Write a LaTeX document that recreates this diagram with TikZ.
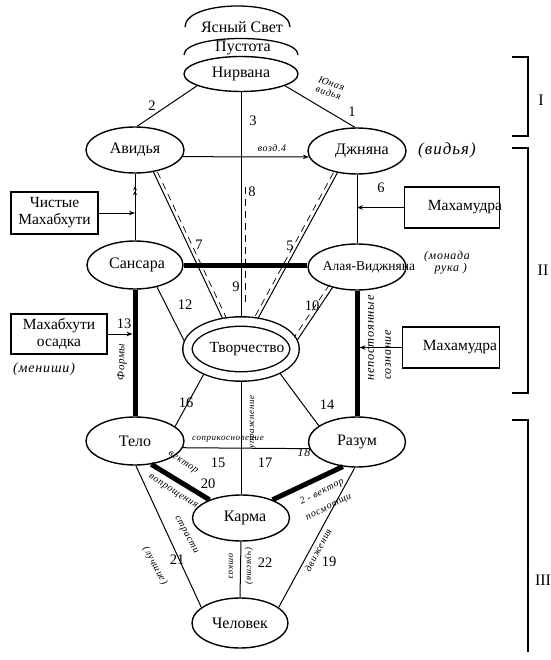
\documentclass[tikz,border=0pt]{standalone}
\usepackage{fontspec}
\setmainfont{Liberation Serif}
\newfontfamily\hand{Liberation Serif}[LetterSpace=6]
\usetikzlibrary{shapes.geometric,arrows.meta,decorations.markings}
\begin{document}
\begin{tikzpicture}[x=1pt,y=-1pt,
  ell/.style={ellipse, draw, line width=1.4pt, inner sep=0pt, font=\fontsize{16}{17}\selectfont},
  box/.style={rectangle, draw, line width=1.4pt, inner sep=0pt, font=\fontsize{15.5}{17}\selectfont, align=center},
  num/.style={inner sep=0pt, font=\fontsize{14.5}{15}\selectfont},
  hw/.style={inner sep=0pt, align=center, font=\hand\itshape\fontsize{#1}{#1}\selectfont},
  hw/.default=11,
  ln/.style={line width=1pt},
  heavy/.style={line width=5pt},
  tip/.style={-{Stealth[length=6pt,width=4.5pt]}},
  dpar/.style={line width=0.7pt, dash pattern=on 7pt off 5pt},
  brk/.style={line width=1.3pt},
  roman/.style={inner sep=0pt, font=\fontsize{16}{17}\selectfont}
]
\useasboundingbox[fill=white] (0,0) rectangle (550,660);

% arcs above Nirvana
\draw[line width=1.3pt] (184,55) .. controls (184,33) and (298,33) .. (298,55);
\draw[line width=1.3pt] (185,27) .. controls (185,-1) and (290,-1) .. (290,27);
\node[ell, draw=none, minimum size=1pt] (clear) at (242,27) {Ясный Свет};
\node[ell, draw=none, minimum size=1pt] (void) at (243,48) {Пустота};

% main ellipses
\node[ell, minimum width=114pt, minimum height=35pt] (nirvana) at (241,74) {\makebox[0pt]{Нирвана}};
\node[ell, minimum width=98pt, minimum height=46pt] (avidya) at (135,150) {\makebox[0pt]{Авидья}};
\node[ell, minimum width=98pt, minimum height=46pt] (jnana) at (357,151) {\makebox[0pt]{\hspace{10pt}Джняна}};
\node[ell, minimum width=96pt, minimum height=48pt] (sansara) at (135,265) {\makebox[0pt]{\hspace{4pt}Сансара}};
\node[ell, minimum width=98pt, minimum height=46pt] (alaya) at (357,267) {\makebox[0pt]{\hspace{24pt}\fontsize{13.5}{14}\selectfont Алая-Виджняна}};
\node[ellipse, draw, double, double distance=8pt, line width=1.4pt, inner sep=0pt, outer sep=5pt,
      minimum width=107pt, minimum height=55pt, font=\fontsize{15.5}{16}\selectfont] (tvor) at (241,349) {\makebox[0pt]{\hspace{12pt}Творчество}};
\node[ell, minimum width=98pt, minimum height=48pt] (telo) at (135,441) {\makebox[0pt]{Тело}};
\node[ell, minimum width=97pt, minimum height=50pt] (razum) at (357,442) {\makebox[0pt]{Разум}};
\node[ell, minimum width=97pt, minimum height=46pt] (karma) at (241,518) {\makebox[0pt]{\hspace{8pt}Карма}};
\node[ell, minimum width=96pt, minimum height=50pt] (chelovek) at (240,623) {\makebox[0pt]{Человек}};

% boxes
\node[box, minimum width=87pt, minimum height=42pt] (chist) at (54.5,213) {Чистые\\Махабхути};
\node[box, minimum width=95pt, minimum height=41pt] (maha1) at (452,207.5) {\makebox[0pt]{\hspace{26pt}Махамудра}};
\node[box, minimum width=96pt, minimum height=40pt] (osadka) at (59,334) {Махабхути\\осадка};
\node[box, minimum width=97pt, minimum height=41pt] (maha2) at (451,347.5) {\makebox[0pt]{\hspace{18pt}Махамудра}};

% connectors
\draw[ln] (nirvana.-165) -- (avidya.85);
\draw[ln] (nirvana.-15) -- (jnana.95);
\draw[ln] (nirvana.south) -- (tvor.north);
\draw[dpar, transform canvas={xshift=4pt}, shorten <=95pt, shorten >=10pt] (nirvana.south) -- (tvor.north);
\draw[ln, tip] (avidya.-8) -- (jnana.187);
\draw[ln, postaction={decorate, decoration={markings,
   mark=at position 0.74 with {\arrow{Stealth[length=4pt,width=4pt]}},
   mark=at position 0.81 with {\arrow{Stealth[length=4pt,width=4pt]}}}}] (sansara.north) -- (avidya.south);
\draw[ln, tip] (chist.east) -- (chist.east -| sansara.north);
\draw[ln] (jnana.south) -- (alaya.north);
\draw[ln, tip] (maha1.west) -- (maha1.west -| jnana.south);
\draw[heavy] (sansara.east) -- (sansara.east -| alaya.west);
\draw[heavy] (sansara.south) -- (telo.north);
\draw[heavy] (alaya.south) -- (razum.north);
\draw[ln, tip, shorten >=2.5pt] (osadka.east) -- (osadka.east -| telo.north);
\draw[ln, tip, shorten >=2.5pt] (maha2.west) -- (maha2.west -| razum.north);
\draw[ln] (avidya.-50) -- (tvor.121);
\draw[dpar, transform canvas={xshift=4pt}] (avidya.-50) -- (tvor.121);
\draw[ln] (jnana.-132) -- (tvor.61);
\draw[dpar, transform canvas={xshift=-4pt}] (jnana.-132) -- (tvor.61);
\draw[ln] (sansara.-45) -- (tvor.172);
\draw[ln] (alaya.-140) -- (tvor.9);
\draw[dpar, transform canvas={xshift=-3pt,yshift=3pt}] (alaya.-140) -- (tvor.9);
\draw[ln] (tvor.-146) -- (telo.20);
\draw[ln] (tvor.-32) -- (razum.157);
\draw[ln] (tvor.south) -- (karma.north);
\draw[ln] (telo.-8) -- (razum.188);
\draw[heavy] (telo.-55) -- (karma.150);
\draw[heavy] (razum.-120) -- (karma.30);
\draw[ln] (telo.-88) -- (chelovek.158);
\draw[ln] (razum.-95) -- (chelovek.22);
\draw[ln] (karma.south) -- (chelovek.north);

% numbers
\node[num] (n1) at (352,112) {1};
\node[num] (n2) at (152,106) {2};
\node[num] (n3) at (253,121) {3};
\node[num] (n5) at (290,246) {5};
\node[num] (n6) at (381,188) {6};
\node[num] (n7) at (199,245) {7};
\node[num] (n8) at (252,192) {8};
\node[num] (n9) at (236,287) {9};
\node[num] (n10) at (312,306) {10};
\node[num] (n12) at (185,305) {12};
\node[num] (n13) at (124,324) {13};
\node[num] (n14) at (327,405) {14};
\node[num] (n15) at (218,463) {15};
\node[num] (n16) at (186,403) {16};
\node[num] (n17) at (265,463) {17};
\node[num] (n19) at (329,562) {19};
\node[num] (n20) at (208,484) {20};
\node[num] (n21) at (177,560) {21};
\node[num] (n22) at (265,563) {22};

% handwritten notes
\node[hw=10, rotate=-18] (h1) at (330,88) {Юная\\видья};
\node[hw=10] (h4) at (272,148) {возд.4};
\node[hw=17] (h5) at (447,150) {(видья)};
\node[hw=12] (h6) at (447,263) {(монада\\\ \ рука )};
\node[hw=14] (h7) at (44,369) {(мениши)};
\node[hw=11, rotate=90] (h8) at (122,362) {Формы};
\node[hw=12.5, rotate=90] (h9) at (371,338) {непостоянные};
\node[hw=12, rotate=90] (h10) at (388,355) {сознание};
\node[hw=9] (h11) at (228,439) {соприкосновение};
\node[hw=9, rotate=90] (h12) at (253,422) {упражнение};
\node[hw=10, rotate=-33] (h13) at (183,463) {вектор};
\node[hw=10, rotate=-33] (h14) at (173,492) {вопрощения};
\node[hw=12] (h15) at (304,453) {18};
\node[hw=10, rotate=27] (h16) at (322,492) {2 - вектор};
\node[hw=10, rotate=27] (h17) at (329,508) {посмотщи};
\node[hw=10, rotate=-62] (h18) at (186,535) {страсти};
\node[hw=10, rotate=-62] (h19) at (155,566) {(лучшие)};
\node[hw=10, rotate=62] (h20) at (318,550) {движения};
\node[hw=9, rotate=-90] (h21) at (231,566) {отказ};
\node[hw=9, rotate=-90] (h22) at (249,566) {(чувств)};

% brackets
\draw[brk] (512,57) -- (528,57) -- (528,136) -- (512,136);
\node[roman] (r1) at (541,100) {I};
\draw[brk] (512,148) -- (528,148) -- (528,393) -- (512,393);
\node[roman] (r2) at (543,270) {II};
\draw[brk] (512,420) -- (528,420) -- (528,652);
\node[roman] (r3) at (543,580) {III};
\end{tikzpicture}
\end{document}
